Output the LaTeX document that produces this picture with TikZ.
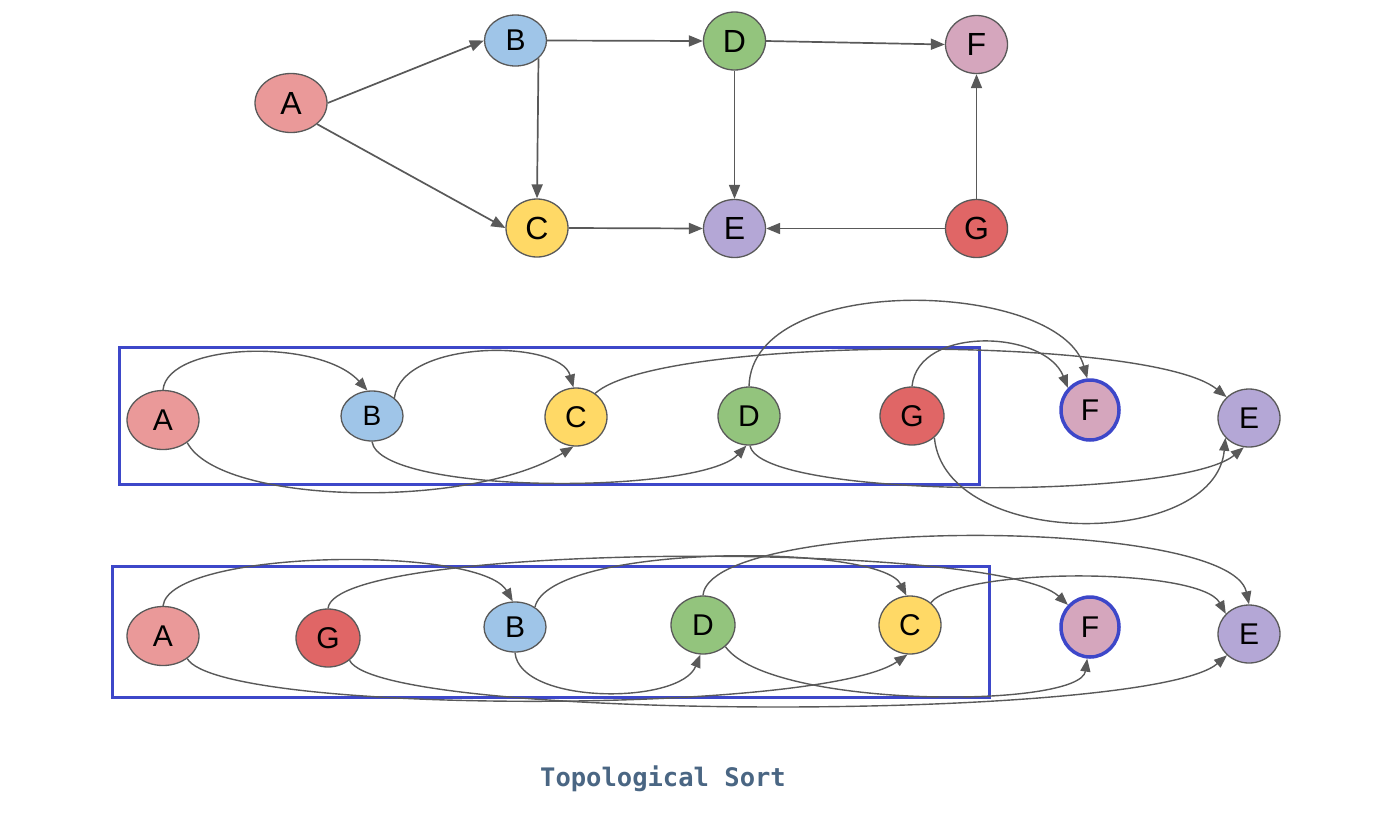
\documentclass[tikz,border=0pt]{standalone}
\usepackage{fontspec}
\setmainfont{Liberation Sans}
\newfontfamily\titlefont{DejaVu Sans Mono}
\usetikzlibrary{arrows.meta,shapes.geometric}
\definecolor{cA}{HTML}{EA9999}
\definecolor{cB}{HTML}{9FC5E8}
\definecolor{cC}{HTML}{FFD966}
\definecolor{cD}{HTML}{93C47D}
\definecolor{cE}{HTML}{B4A7D6}
\definecolor{cF}{HTML}{D5A6BD}
\definecolor{cG}{HTML}{E06666}
\definecolor{edgegray}{HTML}{595959}
\definecolor{boxblue}{HTML}{3D47C9}
\definecolor{titleblue}{HTML}{4A6683}
\begin{document}
\begin{tikzpicture}[x=1pt,y=-1pt,
  vtx/.style={ellipse,draw=edgegray,line width=1.3pt,inner sep=0pt,minimum width=62pt,minimum height=58pt,font=\fontsize{30}{30}\selectfont},
  topv/.style={vtx,font=\fontsize{32}{32}\selectfont},
  bigv/.style={minimum width=72pt,minimum height=59pt},
  flatv/.style={minimum height=50pt},
  fbold/.style={draw=boxblue,line width=3.5pt,minimum width=58pt,minimum height=60pt},
  edgeln/.style={draw=edgegray,line width=1.7pt,-{Triangle[length=14pt,width=11pt]}},
  curveln/.style={draw=edgegray,line width=1.4pt,-{Triangle[length=13pt,width=10pt]}},
  frame/.style={draw=boxblue,line width=3pt},
]
\useasboundingbox (0,0) rectangle (1400,820);

% ---------- top graph ----------
\node[topv,bigv,fill=cA] (a1) at (291,103) {A};
\node[topv,flatv,fill=cB,minimum height=51pt,font=\fontsize{30}{30}\selectfont] (b1) at (515.5,40.5) {B};
\node[topv,fill=cC] (c1) at (537,228) {C};
\node[topv,fill=cD] (d1) at (734.5,41) {D};
\node[topv,fill=cE] (e1) at (734.5,228.5) {E};
\node[topv,fill=cF] (f1) at (976.5,44.5) {F};
\node[topv,fill=cG] (g1) at (976.5,228.5) {G};

\draw[edgeln] (a1.east) -- (b1.west);
\draw[edgeln] (a1.-39) -- (c1.west);
\draw[edgeln] (b1.-38) -- (c1.north);
\draw[edgeln] (b1.east) -- (d1.west);
\draw[edgeln] (d1.east) -- (f1.west);
\draw[edgeln] (d1.south) -- (e1.north);
\draw[edgeln] (c1.east) -- (e1.west);
\draw[edgeln] (g1.west) -- (e1.east);
\draw[edgeln] (g1.north) -- (f1.south);

% ---------- middle row ----------
\draw[frame] (119,347) rectangle (979,484);
\node[vtx,bigv,fill=cA] (a2) at (163,420) {A};
\node[vtx,flatv,fill=cB,font=\fontsize{28}{28}\selectfont] (b2) at (372,416) {B};
\node[vtx,fill=cC] (c2) at (576,417) {C};
\node[vtx,fill=cD] (d2) at (749,416) {D};
\node[vtx,fill=cG,minimum width=64pt] (g2) at (912,416) {G};
\node[vtx,fill=cF,fbold] (f2) at (1090,410) {F};
\node[vtx,fill=cE] (e2) at (1249,418) {E};

\draw[curveln] (a2.north) .. controls (168,342) and (320,338) .. (b2.100);
\draw[curveln] (a2.-43) .. controls (220,505) and (470,510) .. (c2.265);
\draw[curveln] (b2.39) .. controls (402,339) and (560,339) .. (c2.95);
\draw[curveln] (b2.south) .. controls (380,495) and (700,495) .. (d2.265);
\draw[curveln] (c2.51) .. controls (660,335) and (1150,335) .. (e2.137);
\draw[curveln] (d2.north) .. controls (752,270) and (1060,280) .. (f2.95);
\draw[curveln] (d2.-88) .. controls (760,500) and (1180,500) .. (e2.-100);
\draw[curveln] (g2.north) .. controls (918,325) and (1045,330) .. (f2.135);
\draw[curveln] (g2.-44) .. controls (945,550) and (1215,550) .. (e2.-140);

% ---------- bottom row ----------
\draw[frame] (112,566) rectangle (989,697);
\node[vtx,bigv,fill=cA] (a3) at (163,636) {A};
\node[vtx,fill=cG,minimum width=64pt] (g3) at (328,638) {G};
\node[vtx,flatv,fill=cB] (b3) at (515,627) {B};
\node[vtx,fill=cD,minimum width=64pt] (d3) at (703,625) {D};
\node[vtx,fill=cC] (c3) at (910,625) {C};
\node[vtx,fill=cF,fbold] (f3) at (1090,627) {F};
\node[vtx,fill=cE] (e3) at (1249,634) {E};

\draw[curveln] (a3.north) .. controls (170,549) and (480,545) .. (b3.95);
\draw[curveln] (a3.-43) .. controls (220,715) and (820,715) .. (c3.-95);
\draw[curveln] (b3.south) .. controls (520,705) and (680,705) .. (d3.-95);
\draw[curveln] (b3.45) .. controls (550,543) and (880,543) .. (c3.97);
\draw[curveln] (d3.-44) .. controls (770,709) and (1080,709) .. (f3.-95);
\draw[curveln] (d3.north) .. controls (710,516) and (1230,516) .. (e3.north);
\draw[curveln] (c3.47) .. controls (960,567) and (1200,567) .. (e3.139);
\draw[curveln] (g3.north) .. controls (335,541) and (1000,541) .. (f3.135);
\draw[curveln] (g3.-46) .. controls (380,722) and (1150,722) .. (e3.-136);

% ---------- title ----------
\node[text=titleblue,font=\titlefont\bfseries\fontsize{25.5}{25.5}\selectfont] (title) at (663,779) {Topological Sort};
\end{tikzpicture}
\end{document}
